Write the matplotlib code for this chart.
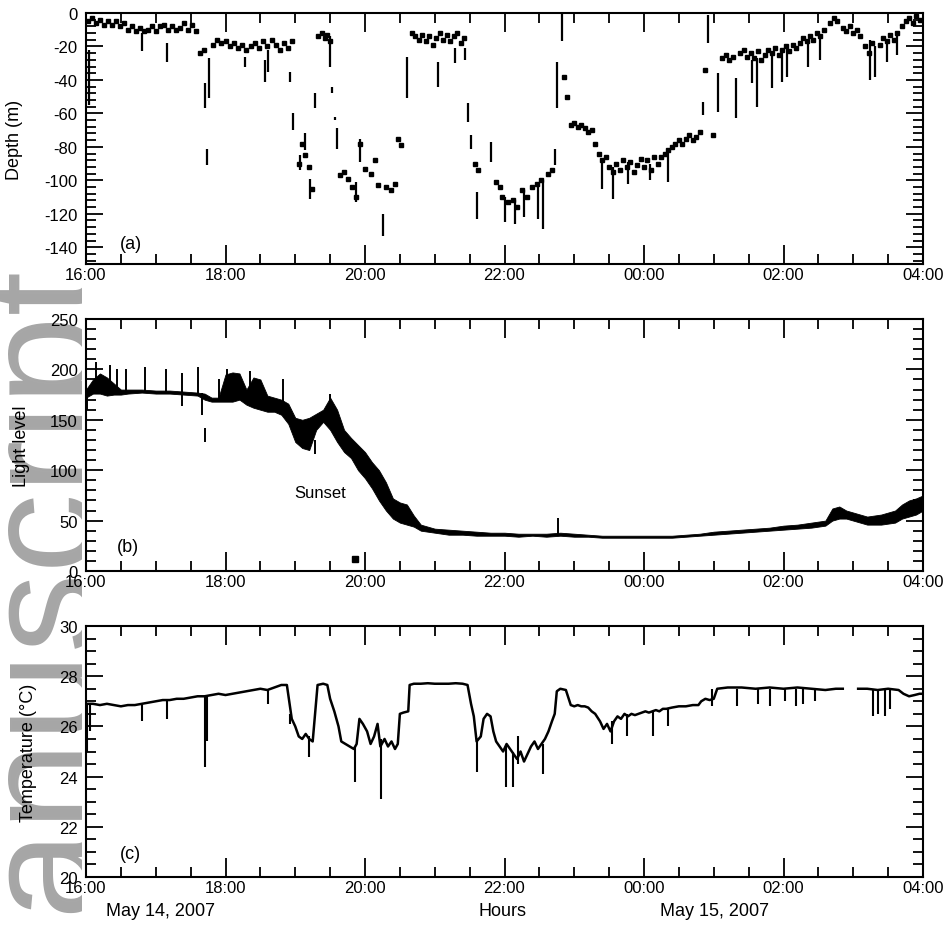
import numpy as np
import matplotlib
matplotlib.use("Agg")
import matplotlib.pyplot as plt
from matplotlib.ticker import MultipleLocator

plt.rcParams['font.family'] = ['Liberation Sans', 'DejaVu Sans']
plt.rcParams['axes.unicode_minus'] = False

nan = np.nan

# ---- time axis: hours after 16:00, May 14, 2007 ----
tick_hours = [0, 2, 4, 6, 8, 10, 12]
tick_labels = ['16:00', '18:00', '20:00', '22:00', '00:00', '02:00', '04:00']

# ---- (a) depth record ----
depth_time = [0.03, 0.09, 0.14, 0.20, 0.26, 0.32, 0.37, 0.43, 0.49, 0.54, 0.60, 0.66, 0.72, 0.77, 0.83,
              0.89, 0.95, 1.00, 1.06, 1.12, 1.18, 1.23, 1.29, 1.35, 1.41, 1.46, 1.52, 1.58, 1.63, 1.69,
              1.82, 1.88, 1.94, 2.00, 2.06, 2.12, 2.18, 2.24, 2.30, 2.36, 2.42, 2.48, 2.54, 2.60, 2.66,
              2.72, 2.78, 2.84, 2.90, 2.96,
              3.05, 3.10, 3.14, 3.20, 3.24,
              3.33, 3.38, 3.42, 3.46, 3.50,
              3.64, 3.70, 3.76, 3.82, 3.87, 3.93, 4.00, 4.08, 4.14, 4.19, 4.30, 4.37, 4.43, 4.47, 4.52,
              4.67, 4.72, 4.77, 4.82, 4.87, 4.92, 4.97, 5.02, 5.07, 5.12, 5.17, 5.22, 5.27, 5.32, 5.37, 5.42,
              5.57, 5.62, 5.88, 5.93, 5.97, 6.05, 6.12, 6.18, 6.25, 6.32, 6.40, 6.47, 6.53, 6.62, 6.68,
              6.86, 6.90, 6.95, 7.00, 7.05, 7.10, 7.15, 7.20, 7.25, 7.30, 7.35, 7.40, 7.45, 7.50,
              7.55, 7.60, 7.65, 7.70, 7.75, 7.80, 7.85, 7.90, 7.95, 8.00, 8.05, 8.10, 8.15, 8.20,
              8.25, 8.30, 8.35, 8.40, 8.45, 8.50, 8.55, 8.60, 8.65, 8.70, 8.75, 8.80, 8.87, 8.99,
              9.12, 9.17, 9.22, 9.28, 9.38, 9.43, 9.48, 9.53, 9.58, 9.63, 9.68, 9.73, 9.78,
              9.83, 9.88, 9.93, 9.98, 10.03, 10.08, 10.13, 10.18,
              10.23, 10.28, 10.33, 10.38, 10.43, 10.48, 10.53, 10.58,
              10.67, 10.72, 10.77, 10.85, 10.90, 10.95, 11.00, 11.05, 11.10,
              11.17, 11.22, 11.27, 11.38, 11.43, 11.48, 11.53, 11.58, 11.63,
              11.70, 11.75, 11.80, 11.85, 11.90, 11.95]
depth_m = [-5, -3, -6, -4, -7, -5, -7, -5, -8, -6, -10, -8, -11, -9, -11,
           -10, -8, -11, -8, -7, -10, -8, -10, -9, -6, -10, -7, -11, -24, -22,
           -19, -16, -18, -17, -20, -18, -21, -19, -22, -20, -18, -21, -17, -20, -16,
           -19, -22, -18, -21, -17,
           -90, -78, -85, -92, -105,
           -14, -12, -15, -13, -17,
           -97, -95, -99, -104, -110, -78, -93, -96, -88, -103, -104, -106, -102, -75, -79,
           -12, -14, -16, -13, -17, -14, -19, -15, -12, -16, -13, -17, -14, -12, -18, -15,
           -90, -94, -101, -104, -110, -113, -112, -116, -106, -110, -104, -102, -100, -96, -94,
           -38, -50, -67, -66, -68, -67, -69, -71, -70, -78, -84, -88, -86, -92,
           -95, -90, -94, -88, -92, -89, -95, -91, -87, -92, -88, -94, -86, -90,
           -86, -84, -82, -80, -78, -76, -78, -75, -73, -76, -74, -71, -34, -73,
           -27, -25, -28, -26, -24, -22, -26, -24, -27, -23, -28, -25, -22,
           -24, -21, -25, -22, -20, -23, -19, -21,
           -18, -15, -17, -14, -16, -12, -14, -10,
           -6, -3, -5, -9, -11, -8, -12, -10, -14,
           -20, -24, -18, -19, -15, -17, -13, -16, -12,
           -8, -5, -3, -6, -2, -4]
depth_dive_time = [0.04, 0.81, 1.16, 1.71, 1.76, 1.74, 2.28, 2.56, 2.61, 2.93, 2.97, 3.07, 3.14, 3.21,
                   3.29, 3.50, 3.53, 3.57, 3.60, 3.87, 3.93, 4.26, 4.60, 5.05, 5.29, 5.43, 5.48, 5.52,
                   5.60, 5.80, 6.00, 6.15, 6.28, 6.48, 6.55, 6.72, 6.75, 6.82, 7.40, 7.55, 7.77, 8.09,
                   8.34, 8.85, 8.92, 9.06, 9.32, 9.55, 9.62, 9.83, 9.98, 10.05, 10.35, 10.52, 11.24,
                   11.31, 11.48, 11.63]
depth_dive_top = [-22, -12, -18, -42, -27, -81, -26, -28, -22, -35, -60, -85, -72, -99,
                  -48, -14, -44, -62, -69, -101, -75, -120, -26, -29, -21, -21, -54, -73,
                  -107, -77, -110, -112, -106, -102, -100, -81, -29, 0, -88, -92, -89, -90,
                  -82, -53, -1, -36, -39, -28, -27, -25, -23, -20, -17, -14, -16,
                  -20, -17, -12]
depth_dive_bottom = [-55, -23, -29, -57, -51, -91, -32, -41, -35, -41, -70, -94, -82, -111,
                     -57, -32, -48, -64, -81, -113, -89, -133, -51, -44, -30, -28, -65, -81,
                     -123, -89, -125, -126, -122, -123, -129, -91, -57, -17, -105, -111, -102, -100,
                     -101, -61, -18, -59, -63, -42, -56, -45, -41, -38, -32, -28, -40,
                     -38, -29, -25]

# ---- (b) light level (envelope of the noisy record) ----
light_time = [0.00, 0.10, 0.20, 0.30, 0.40, 0.50, 0.60, 0.80, 1.00, 1.20, 1.40, 1.60, 1.70, 1.80, 1.90,
              2.00, 2.10, 2.20, 2.30, 2.40, 2.50, 2.60, 2.70, 2.80, 2.90, 3.00, 3.10, 3.20, 3.30, 3.40,
              3.50, 3.60, 3.70, 3.80, 3.90, 4.00, 4.10, 4.20, 4.30, 4.40, 4.50, 4.60, 4.70, 4.80, 4.90,
              5.00, 5.20, 5.40, 5.60, 5.80, 6.00, 6.20, 6.40, 6.60, 6.80, 7.00, 7.20, 7.40, 7.60, 7.80,
              8.00, 8.20, 8.40, 8.60, 8.80, 9.00, 9.20, 9.40, 9.60, 9.80, 10.00, 10.20, 10.40, 10.60,
              10.70, 10.80, 10.90, 11.00, 11.10, 11.20, 11.30, 11.40, 11.50, 11.60, 11.70, 11.80,
              11.90, 12.00]
light_low = [172, 176, 176, 174, 175, 175, 176, 177, 176, 176, 175, 174, 170, 168, 168,
             168, 168, 170, 165, 162, 160, 158, 158, 155, 146, 128, 122, 120, 140, 148,
             140, 128, 118, 112, 100, 92, 82, 70, 60, 52, 48, 46, 44, 40, 39,
             38, 36, 36, 35, 35, 35, 34, 35, 34, 35, 34, 34, 33, 33, 33,
             33, 33, 33, 34, 35, 36, 37, 38, 39, 40, 41, 42, 43, 45,
             50, 52, 52, 50, 48, 46, 46, 46, 47, 48, 52, 54,
             56, 60]
light_high = [180, 190, 196, 192, 186, 180, 180, 180, 179, 179, 178, 177, 176, 172, 172,
              195, 197, 196, 180, 192, 190, 174, 172, 170, 166, 152, 150, 152, 156, 160,
              172, 160, 140, 132, 125, 118, 108, 100, 88, 72, 68, 66, 55, 46, 44,
              42, 41, 40, 39, 38, 38, 37, 37, 37, 38, 37, 36, 35, 35, 35,
              35, 35, 35, 36, 37, 39, 40, 41, 42, 43, 45, 46, 48, 50,
              62, 64, 60, 58, 56, 54, 55, 56, 58, 60, 66, 70,
              72, 75]
light_spike_time = [0.02, 0.15, 0.34, 0.45, 0.58, 0.85, 1.14, 1.38, 1.60, 1.66, 1.70, 1.90,
                    2.02, 2.35, 2.83, 3.28, 3.50, 6.77]
light_spike_low = [160, 176, 178, 178, 178, 177, 177, 164, 175, 155, 128, 170,
                   170, 164, 158, 116, 150, 36]
light_spike_high = [180, 207, 204, 200, 200, 202, 200, 196, 202, 177, 142, 190,
                    200, 198, 190, 130, 176, 53]
light_outlier_time = [3.86]
light_outlier_value = [12]

# ---- (c) temperature ----
temp_time = [0.00, 0.10, 0.20, 0.30, 0.40, 0.50, 0.60, 0.70, 0.80, 0.90, 1.00, 1.10, 1.20, 1.30, 1.40,
             1.50, 1.60, 1.70, 1.80, 1.90, 2.00, 2.10, 2.20, 2.30, 2.40, 2.50, 2.60, 2.70, 2.80, 2.88,
             2.95, 3.00, 3.05, 3.10, 3.15, 3.20, 3.25, 3.30, 3.32, 3.40, 3.46, 3.50, 3.56, 3.62, 3.66,
             3.72, 3.78, 3.84, 3.88, 3.92, 3.97, 4.03, 4.08, 4.13, 4.18, 4.22, 4.28, 4.33, 4.38, 4.43,
             4.47, 4.50, 4.55, 4.62, 4.64, 4.70, 4.80, 4.90, 5.00, 5.10, 5.20, 5.30, 5.40, 5.47, 5.52,
             5.56, 5.60, 5.66, 5.70, 5.75, 5.80, 5.84, 5.88, 5.93, 5.98, 6.03, 6.08, 6.13, 6.18, 6.23,
             6.28, 6.33, 6.38, 6.43, 6.48, 6.53, 6.58, 6.63, 6.68, 6.72, 6.75, 6.80, 6.88, 6.95, 7.00,
             7.05, 7.10, 7.15, 7.20, 7.25, 7.30, 7.37, 7.42, 7.47, 7.52, 7.57, 7.62, 7.67, 7.72, 7.77,
             7.82, 7.87, 7.92, 7.97, 8.02, 8.07, 8.12, 8.17, 8.22, 8.27, 8.32, 8.40, 8.50, 8.60, 8.70,
             8.78, 8.82, 8.88, 8.94, 9.00, 9.05, 9.20, 9.40, 9.60, 9.80, 10.00, 10.20, 10.40, 10.60,
             10.75, 10.85, 10.95, 11.07, 11.20, 11.35, 11.50, 11.65, 11.72, 11.80, 11.88, 11.95, 12.00]
temp_c = [26.9, 26.9, 26.85, 26.9, 26.85, 26.8, 26.85, 26.85, 26.9, 26.95, 27.0, 27.05, 27.05, 27.1, 27.1,
          27.15, 27.2, 27.2, 27.25, 27.3, 27.25, 27.3, 27.35, 27.4, 27.45, 27.5, 27.45, 27.55, 27.65, 27.65,
          26.3, 26.0, 25.6, 25.5, 25.7, 25.5, 25.4, 27.0, 27.65, 27.7, 27.65, 27.1, 26.6, 26.0, 25.4,
          25.3, 25.2, 25.1, 25.3, 26.3, 26.1, 25.8, 25.3, 25.6, 26.1, 25.2, 25.5, 25.2, 25.4, 25.1,
          25.3, 26.5, 26.55, 26.6, 27.65, 27.7, 27.7, 27.72, 27.7, 27.7, 27.7, 27.72, 27.7, 27.65, 26.9,
          26.4, 25.4, 25.6, 26.3, 26.5, 26.4, 25.8, 25.4, 25.2, 25.0, 25.3, 25.1, 24.9, 24.7, 25.0,
          24.6, 24.9, 25.2, 25.4, 25.1, 25.3, 25.5, 25.8, 26.2, 26.5, 27.4, 27.5, 27.45, 26.85, 26.8,
          26.85, 26.8, 26.8, 26.75, 26.6, 26.5, 26.2, 25.9, 26.1, 25.8, 26.2, 26.4, 26.3, 26.5, 26.4,
          26.5, 26.45, 26.5, 26.55, 26.6, 26.55, 26.6, 26.65, 26.6, 26.7, 26.7, 26.75, 26.8, 26.8, 26.85,
          26.85, 27.0, 27.1, 27.05, 27.1, 27.5, 27.55, 27.55, 27.5, 27.55, 27.5, 27.55, 27.5, 27.45,
          27.5, 27.5, nan, 27.5, 27.5, 27.45, 27.5, 27.45, 27.3, 27.2, 27.25, 27.3, 27.3]
temp_spike_time = [0.02, 0.06, 0.81, 1.16, 1.70, 1.74, 2.61, 2.93, 3.20, 3.85, 4.23, 5.61, 6.02, 6.12,
                   6.20, 6.55, 7.54, 7.76, 8.13, 8.34, 8.98, 9.33, 9.63, 9.81, 10.02, 10.18, 10.28,
                   10.45, 11.28, 11.35, 11.45, 11.53]
temp_spike_low = [25.0, 25.8, 26.2, 26.3, 24.4, 25.4, 26.9, 26.1, 24.8, 23.8, 23.1, 24.2, 23.6, 23.6,
                  24.5, 24.1, 25.3, 25.6, 25.6, 26.0, 26.8, 26.8, 26.9, 26.8, 27.0, 26.8, 26.9,
                  27.0, 26.4, 26.5, 26.4, 26.7]
temp_spike_high = [26.9, 26.9, 26.9, 27.0, 27.2, 27.2, 27.5, 26.5, 25.6, 25.2, 25.5, 25.5, 25.2, 25.0,
                   25.6, 25.3, 26.2, 26.5, 26.6, 26.7, 27.5, 27.5, 27.5, 27.5, 27.5, 27.5, 27.5,
                   27.5, 27.5, 27.5, 27.5, 27.5]

W, H = 950, 928
fig = plt.figure(figsize=(W / 100, H / 100), dpi=100)

# faint "manuscript" watermark in the left margin
wm = fig.add_axes([0, 0, 82 / W, 1], zorder=-1)
wm.axis('off')
wm.text(84 / W, -113 / H, 'manuscript', transform=fig.transFigure, rotation=90,
        rotation_mode='anchor', ha='left', va='baseline', fontsize=115,
        color='#a6a6a6', clip_on=True, family='Liberation Sans')

left = 86 / W
width = (923 - 86) / W
panels = [(14, 265), (320, 572), (627, 878)]
axes = []
for top, bot in panels:
    ax = fig.add_axes([left, 1 - bot / H, width, (bot - top) / H])
    axes.append(ax)

FS = 12
for ax in axes:
    ax.set_xlim(0, 12)
    ax.set_xticks(tick_hours)
    ax.set_xticklabels(tick_labels)
    ax.xaxis.set_minor_locator(MultipleLocator(0.5))
    ax.tick_params(which='both', direction='in', top=True, right=True, width=1.3,
                   labelsize=FS)
    ax.tick_params(axis='x', which='major', length=14, pad=2)
    ax.tick_params(axis='x', which='minor', length=7)
    ax.tick_params(axis='y', which='major', length=12, pad=6)
    ax.tick_params(axis='y', which='minor', length=7.5)
    for s in ax.spines.values():
        s.set_linewidth(1.5)

# (a) depth
ax = axes[0]
ax.plot(depth_time, depth_m, 's', ms=2.6, color='k', mec='k')
ax.vlines(depth_dive_time, depth_dive_bottom, depth_dive_top, color='k', lw=1.6)
ax.set_ylim(-150, 0)
ax.set_yticks(range(-140, 1, 20))
ax.yaxis.set_minor_locator(MultipleLocator(4))
ax.set_ylabel('Depth (m)', fontsize=13)
ax.yaxis.set_label_coords(-0.075, 0.5)
ax.text(0.041, 0.08, '(a)', transform=ax.transAxes, fontsize=13, va='center')

# (b) light
ax = axes[1]
ax.fill_between(light_time, light_low, light_high, color='k', lw=0.6)
ax.vlines(light_spike_time, light_spike_low, light_spike_high, color='k', lw=1.4)
ax.plot(light_outlier_time, light_outlier_value, 's', ms=4, color='k')
ax.set_ylim(0, 250)
ax.set_yticks(range(0, 251, 50))
ax.yaxis.set_minor_locator(MultipleLocator(10))
ax.set_ylabel('Light level', fontsize=13)
ax.yaxis.set_label_coords(-0.067, 0.5)
ax.text(0.037, 0.099, '(b)', transform=ax.transAxes, fontsize=13, va='center')
ax.text(2.98, 78, 'Sunset', fontsize=12, va='center', ha='left')

# (c) temperature
ax = axes[2]
ax.plot(temp_time, temp_c, color='k', lw=1.8)
ax.vlines(temp_spike_time, temp_spike_low, temp_spike_high, color='k', lw=1.5)
ax.set_ylim(20, 30)
ax.set_yticks(range(20, 31, 2))
ax.yaxis.set_minor_locator(MultipleLocator(0.5))
ax.set_ylabel('Temperature (\u00b0C)', fontsize=13)
ax.yaxis.set_label_coords(-0.059, 0.5)
ax.text(0.041, 0.092, '(c)', transform=ax.transAxes, fontsize=13, va='center')

fig.text(503 / W, 1 - 912 / H, 'Hours', ha='center', va='center', fontsize=13)
fig.text(161 / W, 1 - 912 / H, 'May 14, 2007', ha='center', va='center', fontsize=13)
fig.text(715 / W, 1 - 912 / H, 'May 15, 2007', ha='center', va='center', fontsize=13)

fig.savefig('out.png', dpi=100)
